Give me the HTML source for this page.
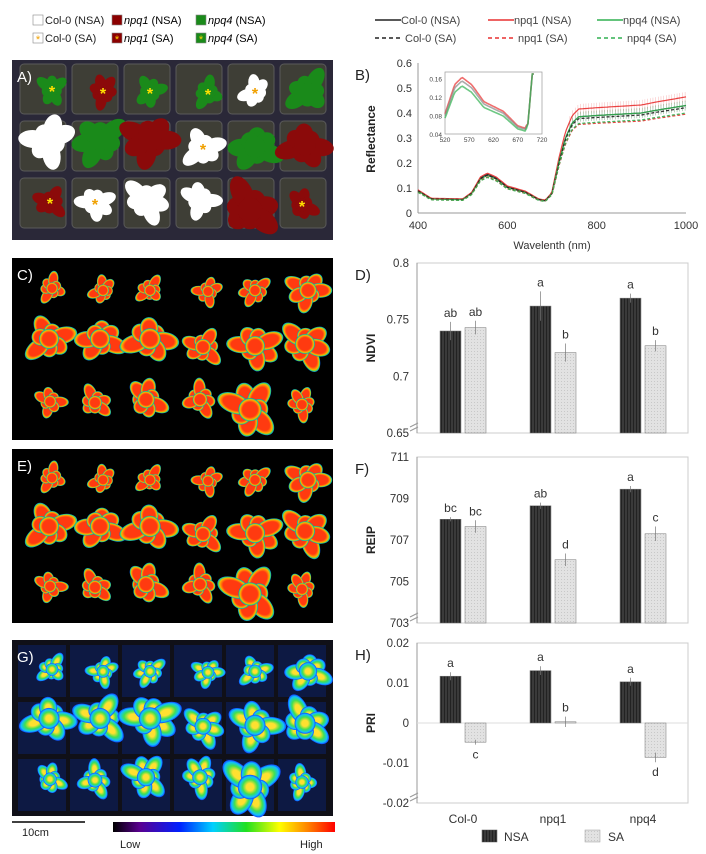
<!DOCTYPE html>
<html><head><meta charset="utf-8"><style>
body{margin:0;background:#fff;width:706px;height:854px;overflow:hidden;font-family:"Liberation Sans",sans-serif}
svg{position:absolute;left:0;top:0}
</style></head><body>
<svg id="s" width="706" height="854" viewBox="0 0 706 854" font-family="Liberation Sans, sans-serif">
<defs>
<pattern id="dk" width="3" height="3" patternUnits="userSpaceOnUse"><rect width="3" height="3" fill="#3a3a3a"/><rect width="1" height="3" fill="#222"/></pattern>
<pattern id="lt" width="3" height="3" patternUnits="userSpaceOnUse"><rect width="3" height="3" fill="#e2e2e2"/><rect width="1" height="1" fill="#c8c8c8"/></pattern>
<linearGradient id="cb" x1="0" x2="1"><stop offset="0" stop-color="#000"/><stop offset=".12" stop-color="#5a0090"/><stop offset=".3" stop-color="#0020ff"/><stop offset=".45" stop-color="#00d0ff"/><stop offset=".6" stop-color="#20e020"/><stop offset=".75" stop-color="#ffff00"/><stop offset=".88" stop-color="#ff8000"/><stop offset="1" stop-color="#ff0000"/></linearGradient>
<radialGradient id="hC"><stop offset=".65" stop-color="#ff3a10"/><stop offset=".85" stop-color="#ffb000"/><stop offset=".94" stop-color="#30e060"/><stop offset="1" stop-color="#0060ff"/></radialGradient>
<radialGradient id="hG"><stop offset=".3" stop-color="#ffe030"/><stop offset=".6" stop-color="#40e050"/><stop offset=".85" stop-color="#10c0ff"/><stop offset="1" stop-color="#1040ff"/></radialGradient>
</defs>
<g id="g"></g>
</svg>
<script>
const g=document.getElementById('g');let h='';
function T(x,y,t,o){o=o||{};h+=`<text x="${x}" y="${y}" font-size="${o.s||11}" fill="${o.c||'#222'}" text-anchor="${o.a||'start'}" ${o.w?'font-weight="bold"':''} ${o.i?'font-style="italic"':''} ${o.r?`transform="rotate(-90 ${x} ${y})"`:''}>${t}</text>`;}
function box(x,y,c,st){h+=`<rect x="${x}" y="${y}" width="10" height="10" fill="${c}" stroke="#888" stroke-width=".6"/>`;if(st)h+=`<text x="${x+5}" y="${y+10}" font-size="11" fill="${st}" text-anchor="middle">*</text>`;}
box(33,15,'#fff');T(45,24,'Col-0 (NSA)');box(33,33,'#fff','#f0a000');T(45,42,'Col-0 (SA)');
box(112,15,'#8b0000');h+=`<text x="124" y="24" font-size="11"><tspan font-style="italic">npq1</tspan> (NSA)</text>`;
box(112,33,'#8b0000','#ffd000');h+=`<text x="124" y="42" font-size="11"><tspan font-style="italic">npq1</tspan> (SA)</text>`;
box(196,15,'#1a8a1a');h+=`<text x="208" y="24" font-size="11"><tspan font-style="italic">npq4</tspan> (NSA)</text>`;
box(196,33,'#1a8a1a','#ffd000');h+=`<text x="208" y="42" font-size="11"><tspan font-style="italic">npq4</tspan> (SA)</text>`;
[[375,'#222','Col-0'],[488,'#e83030','npq1'],[597,'#30b050','npq4']].forEach(([x,c,n])=>{
h+=`<line x1="${x}" y1="20" x2="${x+26}" y2="20" stroke="${c}" stroke-width="1.5"/><line x1="${x}" y1="38" x2="${x+26}" y2="38" stroke="${c}" stroke-width="1.5" stroke-dasharray="4,3"/>`;
T(x+26,24,n+' (NSA)',{c:'#444'});T(x+30,42,n+' (SA)',{c:'#444'});});
function ros(cx,cy,r,fill,n,seed,st){let s='';for(let i=0;i<n;i++){let a=i*360/n+seed*37;let l=r*(0.8+0.25*Math.sin(i*2.3+seed));s+=`<ellipse cx="${cx}" cy="${cy-l/2}" rx="${r*0.3}" ry="${l/2}" fill="${fill}" transform="rotate(${a} ${cx} ${cy})"/>`;}s+=`<circle cx="${cx}" cy="${cy}" r="${r*0.35}" fill="${fill}"/>`;if(st)s+=`<text x="${cx}" y="${cy+7}" font-size="16" fill="${st}" text-anchor="middle" font-weight="bold">*</text>`;h+=s;}
const W='#fff',R='#8b0a0a',G='#1a8a1a';
const lay=[[[52,90,18,G,1],[103,92,18,R,1],[150,92,18,G,1],[208,93,18,G,1],[255,92,19,W,1],[308,92,26,G,0]],
[[49,140,30,W,0],[100,140,30,G,0],[150,140,32,R,0],[203,148,24,W,1],[255,147,30,G,0],[305,145,30,R,0]],
[[50,202,19,R,1],[95,203,21,W,1],[146,200,26,W,0],[200,200,22,W,0],[250,210,35,R,0],[302,205,19,R,1]]];
h+=`<rect x="12" y="60" width="321" height="180" fill="#2a2838"/>`;
for(let r=0;r<3;r++)for(let c=0;c<6;c++)h+=`<rect x="${20+c*52}" y="${64+r*57}" width="46" height="50" rx="4" fill="#3e3e36" stroke="#5a5a5a" stroke-width="1"/>`;
lay.forEach((row,ri)=>row.forEach((p,ci)=>ros(p[0],p[1],p[2],p[3],7,ri*6+ci,p[4]?(p[3]==W?'#f0a000':'#ffe000'):null)));
T(17,82,'A)',{s:15,c:'#fff'});
function hm(y0,hh,lab,fill,bg){h+=`<rect x="12" y="${y0}" width="321" height="${hh}" fill="${bg}"/>`;
const sc=hh/180;lay.forEach((row,ri)=>row.forEach((p,ci)=>ros(p[0],y0+(p[1]-60)*sc,p[2]*0.95,fill,7,ri*6+ci+3,null)));
T(17,y0+22,lab,{s:15,c:'#fff'});}
hm(258,182,'C)','url(#hC)','#000');
hm(449,174,'E)','url(#hC)','#000');
h+=`<rect x="12" y="640" width="321" height="176" fill="#101018"/>`;
for(let r=0;r<3;r++)for(let c=0;c<6;c++)h+=`<rect x="${18+c*52}" y="${645+r*57}" width="48" height="52" fill="#0c2060" opacity=".6"/>`;
lay.forEach((row,ri)=>row.forEach((p,ci)=>ros(p[0],640+(p[1]-60)*0.98,p[2]*1.0,'url(#hG)',7,ri*6+ci+5,null)));
T(17,662,'G)',{s:15,c:'#fff'});
h+=`<line x1="12" y1="822" x2="85" y2="822" stroke="#000" stroke-width="1.5"/>`;T(22,836,'10cm',{s:11});
h+=`<rect x="113" y="822" width="222" height="10" fill="url(#cb)"/>`;T(120,848,'Low',{s:11});T(300,848,'High',{s:11});
const bx=w=>418+(w-400)/600*268, by=r=>213-r/0.6*150;
h+=`<line x1="418" y1="63" x2="418" y2="213" stroke="#999"/><line x1="418" y1="213" x2="686" y2="213" stroke="#999"/>`;
for(let i=0;i<=6;i++){const v=i/10;T(412,by(v)+4,i?v.toFixed(1):'0',{a:'end',c:'#333'});}
[400,600,800,1000].forEach(w=>T(bx(w),229,w,{a:'middle',c:'#333'}));
T(552,249,'Wavelenth (nm)',{a:'middle',c:'#333'});T(375,139,'Reflectance',{r:1,w:1,a:'middle',s:12});
T(355,80,'B)',{s:15});
function spec(w,k1,k2){let pts=[[400,.09],[430,.057],[500,.055],[520,.08],[540,.14],[555,.155],[575,.14],[600,.105],[640,.085],[670,.055],[685,.05],[700,.08],[715,.2],[730,.3],[745,.36],[760,.385],[800,.39],[900,.40],[930,.41],[1000,.43]];
for(let i=1;i<pts.length;i++)if(w<=pts[i][0]){const a=pts[i-1],b=pts[i],t=(w-a[0])/(b[0]-a[0]);let v=a[1]+t*(b[1]-a[1]);return v*(w<700?k1:k2);}}
[['#222',1,1,0],['#e83030',1.03,1.08,0],['#30b050',.97,1.0,0],['#222',.98,.98,1],['#e83030',.93,.92,1],['#30b050',.92,.93,1]].forEach(([c,k1,k2,d])=>{
let p='';for(let w=400;w<=1000;w+=4)p+=(w==400?'M':'L')+bx(w).toFixed(1)+','+by(spec(w,k1,k2)).toFixed(1);
h+=`<path d="${p}" fill="none" stroke="${c}" stroke-width="${d?1.3:1.2}" ${d?'stroke-dasharray="3,2"':''} opacity=".9"/>`;
if(!d){let e='';for(let w=740;w<=1000;w+=6){const v=spec(w,k1,k2);e+=`M${bx(w)},${by(v+0.02)}L${bx(w)},${by(v-0.02)}`;}h+=`<path d="${e}" stroke="${c}" stroke-width=".5" opacity=".35"/>`;}});
const ix=w=>445+(w-520)/200*97, iy=r=>134-(r-0.04)/0.13*60;
h+=`<rect x="445" y="72" width="97" height="62" fill="#fff" stroke="#999" stroke-width=".7"/>`;
[.04,.08,.12,.16].forEach(v=>T(442,iy(v)+3,v.toFixed(2),{a:'end',s:6.5,c:'#444'}));
[520,570,620,670,720].forEach(w=>T(ix(w),142,w,{a:'middle',s:6.5,c:'#444'}));
[['#e83030',1.05],['#888',1.0],['#30b050',.93]].forEach(([c,k])=>{let p='';for(let w=520;w<=705;w+=3){let v=spec(w,k,1);if(w>690)v=0.05+(w-690)*0.012;v=Math.min(v,0.17);p+=(w==520?'M':'L')+ix(w).toFixed(1)+','+iy(v).toFixed(1);}h+=`<path d="${p}" fill="none" stroke="${c}" stroke-width="1.6" opacity=".7"/>`;});
function bars(y0,y1,vmin,vmax,ticks,fmt,lab,plab,data,zero){
const Y=v=>y1-(v-vmin)/(vmax-vmin)*(y1-y0);
h+=`<rect x="417" y="${y0}" width="271" height="${y1-y0}" fill="none" stroke="#ccc"/><line x1="417" y1="${y0}" x2="417" y2="${y1}" stroke="#999"/>`;
ticks.forEach(v=>T(409,Y(v)+4,fmt(v),{a:'end',c:'#333',s:11.5}));
T(375,(y0+y1)/2,lab,{r:1,w:1,a:'middle',s:12});T(355,y0+17,plab,{s:15});
const xs=[440,465,530,555,620,645];const base=zero?Y(0):y1;
if(zero)h+=`<line x1="417" y1="${base}" x2="688" y2="${base}" stroke="#ddd"/>`;
data.forEach(([v,e,l],i)=>{const yv=Y(v),top=Math.min(yv,base),hh=Math.abs(base-yv);
h+=`<rect x="${xs[i]}" y="${top}" width="21" height="${Math.max(hh,1)}" fill="${i%2?'url(#lt)':'url(#dk)'}" stroke="#777" stroke-width=".5"/>`;
h+=`<line x1="${xs[i]+10.5}" y1="${Y(v+e)}" x2="${xs[i]+10.5}" y2="${Y(v-e)}" stroke="#777" stroke-width=".7"/>`;
const ly=v>=0||!zero?Y(v+e)-5:Y(v-e)+14;T(xs[i]+10.5,ly,l,{a:'middle',s:12,c:'#333'});});
h+=`<path d="M410,${y1-6}l8,-4M410,${y1-2}l8,-4" stroke="#999" fill="none"/>`;}
bars(263,433,0.65,0.8,[0.8,0.75,0.7,0.65],v=>v==0.7?'0.7':v==0.8?'0.8':v.toString(),'NDVI','D)',
[[.740,.008,'ab'],[.743,.006,'ab'],[.762,.013,'a'],[.721,.008,'b'],[.769,.004,'a'],[.727,.005,'b']]);
bars(457,623,703,711,[711,709,707,705,703],v=>v,'REIP','F)',
[[708.0,.1,'bc'],[707.65,.3,'bc'],[708.65,.15,'ab'],[706.05,.3,'d'],[709.45,.15,'a'],[707.3,.35,'c']]);
bars(643,803,-0.02,0.02,[0.02,0.01,0,-0.01,-0.02],v=>v==0?'0':v.toFixed(2),'PRI','H)',
[[.0117,.001,'a'],[-.0048,.0006,'c'],[.0131,.0011,'a'],[.0003,.0013,'b'],[.0103,.001,'a'],[-.0086,.0012,'d']],true);
[['Col-0',463],['npq1',553],['npq4',643]].forEach(([t,x])=>T(x,823,t,{a:'middle',s:12,c:'#333'}));
h+=`<rect x="482" y="830" width="15" height="12" fill="url(#dk)" stroke="#555" stroke-width=".5"/>`;T(504,841,'NSA',{s:12,c:'#333'});
h+=`<rect x="585" y="830" width="15" height="12" fill="url(#lt)" stroke="#999" stroke-width=".5"/>`;T(608,841,'SA',{s:12,c:'#333'});
g.innerHTML=h;
</script>
</body></html>
